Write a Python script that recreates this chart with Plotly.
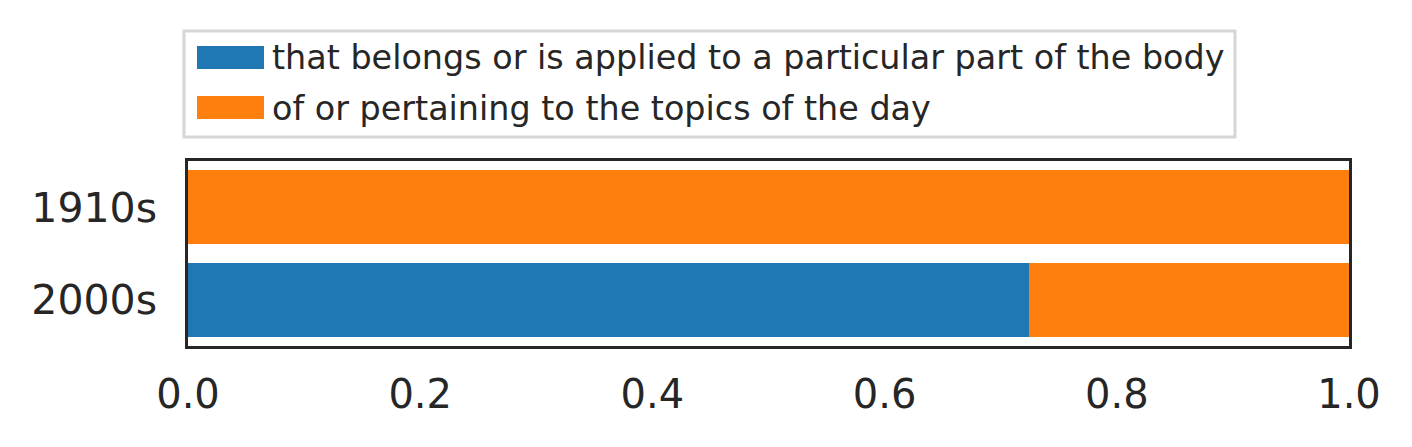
import plotly.graph_objects as go

# datos
decades = ["2000s", "1910s"]
series_names = ["that belongs or is applied to a particular part of the body",
                "of or pertaining to the topics of the day"]
body_vals = [0.724, 0.0]
topics_vals = [0.276, 1.0]
colors = ["#1f77b4", "#ff7f0e"]

# la pagina desplaza la figura unos 8px, se compensa en los margenes
L, R, T, B = 180, 71, 153, 109
W, H = 1412, 447

fig = go.Figure()
for name, vals, col in zip(series_names, [body_vals, topics_vals], colors):
    fig.add_trace(go.Bar(y=decades, x=vals, name=name, orientation="h",
                         marker=dict(color=col, line=dict(width=0)), showlegend=False))

fig.update_layout(
    width=W, height=H,
    margin=dict(l=L, r=R, t=T, b=B),
    barmode="stack", bargap=0.2,
    plot_bgcolor="white", paper_bgcolor="white",
    font=dict(family="DejaVu Sans", color="#262626"),
)
fig.update_xaxes(range=[0, 1], tickvals=[0, 0.2, 0.4, 0.6, 0.8, 1.0], ticktext=["0.0", "0.2", "0.4", "0.6", "0.8", "1.0"],
                 showgrid=False, zeroline=False, showline=True, mirror=True, linecolor="#262626", linewidth=2.5,
                 ticks="", ticklabelstandoff=11, tickfont=dict(size=40))
fig.update_yaxes(showgrid=False, zeroline=False, showline=True, mirror=True, linecolor="#262626", linewidth=2.5,
                 ticks="", ticklabelstandoff=20, tickfont=dict(size=41), range=[-0.5, 1.5])

# leyenda dibujada a mano (pixeles de pantalla -> paper)
pw, ph = W - L - R, H - T - B
def px(x): return (x - 8 - L) / pw
def py(y): return (H - B - (y - 8)) / ph

fig.add_shape(type="rect", xref="paper", yref="paper", x0=px(184), x1=px(1235), y0=py(137), y1=py(31),
              line=dict(color="#d6d6d6", width=3), fillcolor="white", layer="above")
for i, (name, col) in enumerate(zip(series_names, colors)):
    top = 46 + i * 50
    fig.add_shape(type="rect", xref="paper", yref="paper", x0=px(197), x1=px(264), y0=py(top + 23), y1=py(top),
                  line=dict(width=0), fillcolor=col, layer="above")
    fig.add_annotation(xref="paper", yref="paper", x=px(270), y=py(top + 12), text=name, showarrow=False,
                       xanchor="left", yanchor="middle", font=dict(size=33.4, color="#262626"))

fig.write_html("out.html")
